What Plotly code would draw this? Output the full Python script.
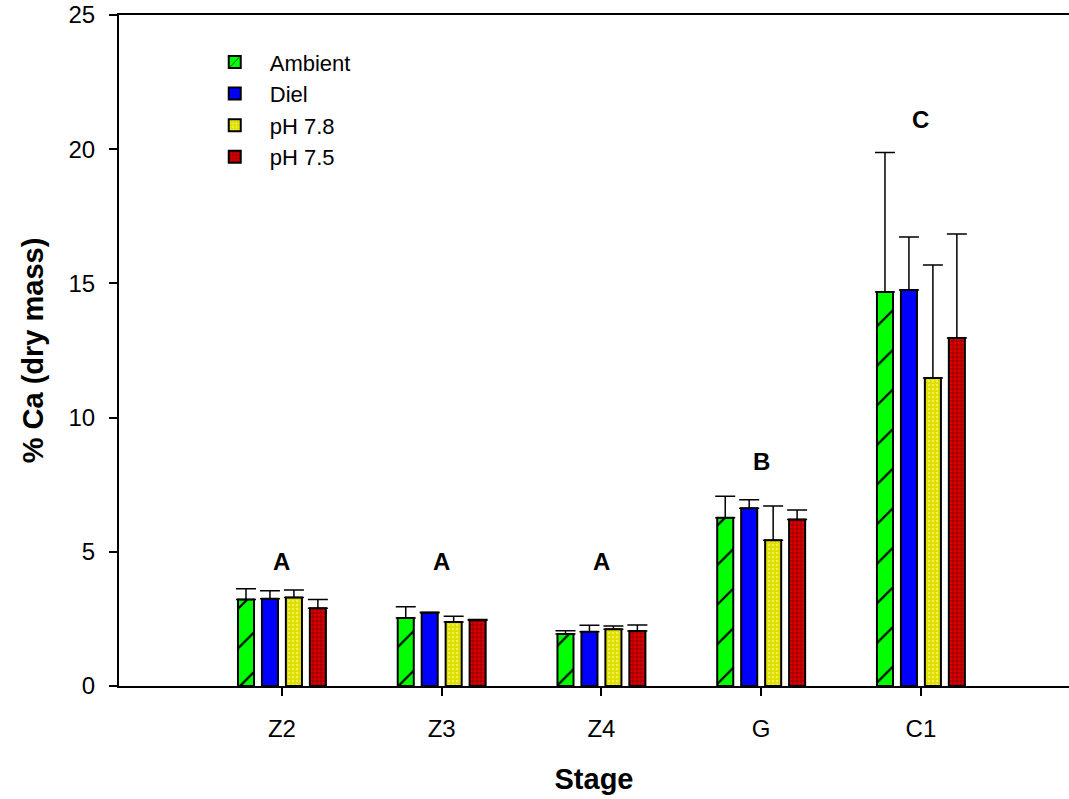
import plotly.graph_objects as go

stages = ["Z2", "Z3", "Z4", "G", "C1"]
series = ["Ambient", "Diel", "pH 7.8", "pH 7.5"]
ambient = [3.22, 2.53, 1.94, 6.27, 14.68]
ambient_err = [0.40, 0.42, 0.12, 0.80, 5.2]
diel = [3.25, 2.73, 2.02, 6.62, 14.75]
diel_err = [0.30, 0.02, 0.24, 0.32, 1.98]
ph78 = [3.30, 2.38, 2.11, 5.43, 11.48]
ph78_err = [0.28, 0.22, 0.13, 1.28, 4.21]
ph75 = [2.90, 2.45, 2.05, 6.20, 12.97]
ph75_err = [0.32, 0.03, 0.22, 0.36, 3.87]
letters = ["A", "A", "A", "B", "C"]
letter_y = [4.65, 4.65, 4.65, 8.35, 21.1]

values = [ambient, diel, ph78, ph75]
errors = [ambient_err, diel_err, ph78_err, ph75_err]
colors = ["#00ff00", "#0000ff", "#e6e600", "#cc0000"]
patterns = [
    dict(shape="/", fgcolor="black", bgcolor="#00ff00", size=28, solidity=0.08, fillmode="replace"),
    dict(shape="", fillmode="replace"),
    dict(shape=".", fgcolor="#f2f24a", bgcolor="#dede00", size=4, solidity=0.3, fillmode="replace"),
    dict(shape="+", fgcolor="#7a0000", bgcolor="#dd0000", size=4, solidity=0.3, fillmode="replace"),
]

FONT = "Liberation Sans, Arial, sans-serif"
fig = go.Figure()
for name, v, e, c, p in zip(series, values, errors, colors, patterns):
    fig.add_trace(go.Bar(
        x=stages, y=v, name=name,
        marker=dict(color=c, line=dict(color="black", width=2), pattern=p),
        error_y=dict(type="data", array=e, arrayminus=[0] * len(e), symmetric=False,
                     color="black", thickness=1.5, width=10),
    ))

for s, t, yv in zip(stages, letters, letter_y):
    fig.add_annotation(x=s, y=yv, text="<b>%s</b>" % t, showarrow=False,
                       font=dict(family=FONT, size=24, color="black"))

fig.update_layout(
    width=1069, height=799,
    margin=dict(l=119, r=0, t=15, b=113),
    paper_bgcolor="white", plot_bgcolor="white",
    barmode="group", bargap=0.40, bargroupgap=0.33,
    font=dict(family=FONT, color="black"),
    showlegend=True,
    legend=dict(x=0.085, y=0.961, xanchor="left", yanchor="top",
                font=dict(family=FONT, size=22, color="black"),
                bgcolor="rgba(0,0,0,0)", tracegroupgap=0, itemwidth=60),
    xaxis=dict(range=[-1.02, 4.927], showline=True, linecolor="black", linewidth=2,
               mirror=True, ticks="outside", ticklen=8, tickwidth=1.5, tickcolor="black",
               tickfont=dict(family=FONT, size=24, color="black"), ticklabelstandoff=12,
               automargin=True,
               title=dict(text="<b>Stage</b>", font=dict(family=FONT, size=29, color="black"), standoff=28),
               showgrid=False, zeroline=False),
    yaxis=dict(range=[0, 25], dtick=5, showline=True, linecolor="black", linewidth=2,
               ticks="outside", ticklen=8, tickwidth=1.5, tickcolor="black",
               tickfont=dict(family=FONT, size=24, color="black"), ticklabelstandoff=9,
               ticklabeloverflow="allow",
               title=dict(text="<b>% Ca (dry mass)</b>", font=dict(family=FONT, size=29, color="black"), standoff=16),
               showgrid=False, zeroline=False),
)

fig.write_html("out.html", config={"displayModeBar": False},
               post_script="document.body.style.margin='0px';")
